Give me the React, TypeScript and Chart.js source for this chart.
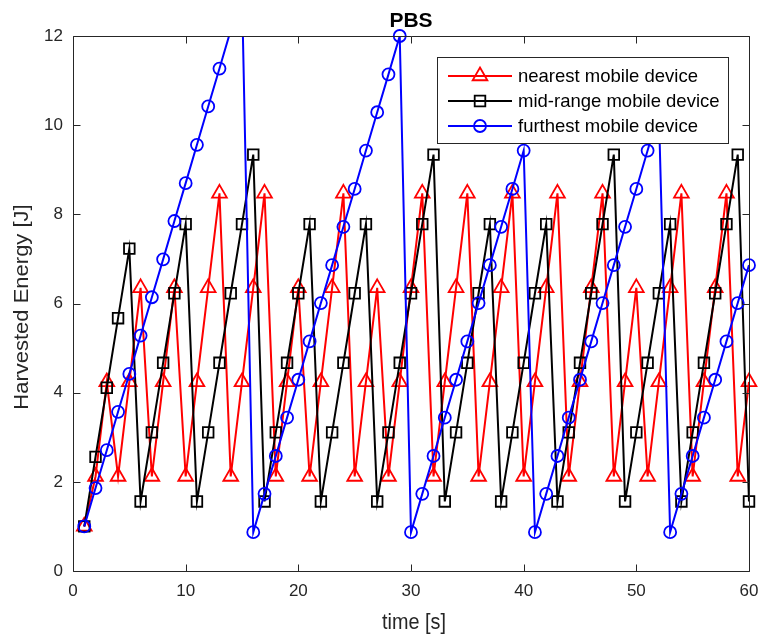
import React, { useEffect, useRef } from "react";
import { Chart, registerables } from "chart.js";

Chart.register(...registerables);

// ---------- data ----------
const timeS = [
  1, 2, 3, 4, 5, 6, 7, 8, 9, 10, 11, 12, 13, 14, 15, 16, 17, 18, 19, 20,
  21, 22, 23, 24, 25, 26, 27, 28, 29, 30, 31, 32, 33, 34, 35, 36, 37, 38, 39, 40,
  41, 42, 43, 44, 45, 46, 47, 48, 49, 50, 51, 52, 53, 54, 55, 56, 57, 58, 59, 60,
];

const nearestJ = [
  1.0, 2.12, 4.24, 2.12, 4.24, 6.35, 2.12, 4.24, 6.35, 2.12,
  4.24, 6.35, 8.47, 2.12, 4.24, 6.35, 8.47, 2.12, 4.24, 6.35,
  2.12, 4.24, 6.35, 8.47, 2.12, 4.24, 6.35, 2.12, 4.24, 6.35,
  8.47, 2.12, 4.24, 6.35, 8.47, 2.12, 4.24, 6.35, 8.47, 2.12,
  4.24, 6.35, 8.47, 2.12, 4.24, 6.35, 8.47, 2.12, 4.24, 6.35,
  2.12, 4.24, 6.35, 8.47, 2.12, 4.24, 6.35, 8.47, 2.12, 4.24,
];

const midRangeJ = [
  1.0, 2.56, 4.11, 5.67, 7.23, 1.56, 3.11, 4.67, 6.23, 7.78,
  1.56, 3.11, 4.67, 6.23, 7.78, 9.34, 1.56, 3.11, 4.67, 6.23,
  7.78, 1.56, 3.11, 4.67, 6.23, 7.78, 1.56, 3.11, 4.67, 6.23,
  7.78, 9.34, 1.56, 3.11, 4.67, 6.23, 7.78, 1.56, 3.11, 4.67,
  6.23, 7.78, 1.56, 3.11, 4.67, 6.23, 7.78, 9.34, 1.56, 3.11,
  4.67, 6.23, 7.78, 1.56, 3.11, 4.67, 6.23, 7.78, 9.34, 1.56,
];

const furthestJ = [
  1.0, 1.86, 2.71, 3.57, 4.42, 5.28, 6.14, 6.99, 7.85, 8.7,
  9.56, 10.42, 11.27, 12.13, 12.98, 0.87, 1.73, 2.58, 3.44, 4.29,
  5.15, 6.01, 6.86, 7.72, 8.57, 9.43, 10.29, 11.14, 12.0, 0.87,
  1.73, 2.58, 3.44, 4.29, 5.15, 6.01, 6.86, 7.72, 8.57, 9.43,
  0.87, 1.73, 2.58, 3.44, 4.29, 5.15, 6.01, 6.86, 7.72, 8.57,
  9.43, 10.29, 0.87, 1.73, 2.58, 3.44, 4.29, 5.15, 6.01, 6.86,
];

const xTicks = [0, 10, 20, 30, 40, 50, 60];
const yTicks = [0, 2, 4, 6, 8, 10, 12];
const seriesNames = ["nearest mobile device", "mid-range mobile device", "furthest mobile device"];
const seriesColors = ["#ff0000", "#000000", "#0000ff"];
const seriesMarkers = ["triangle", "rect", "circle"];
const titleText = "PBS";
const xLabel = "time [s]";
const yLabel = "Harvested Energy [J]";

// ---------- styling ----------
const FONT = "'Liberation Sans', Arial, Helvetica, sans-serif";
const AXIS = "#262626";
const MARKER_R: Record<string, number> = { triangle: 8.5, rect: 7.5, circle: 6 };

function drawMarker(ctx: CanvasRenderingContext2D, style: string, x: number, y: number, r: number) {
  ctx.beginPath();
  if (style === "triangle") {
    for (let k = 0; k < 3; k++) {
      const a = (k * 2 * Math.PI) / 3;
      const px = x + Math.sin(a) * r;
      const py = y - Math.cos(a) * r;
      if (k === 0) ctx.moveTo(px, py);
      else ctx.lineTo(px, py);
    }
    ctx.closePath();
  } else if (style === "rect") {
    const s = Math.SQRT1_2 * r;
    ctx.rect(x - s, y - s, 2 * s, 2 * s);
  } else {
    ctx.arc(x, y, r, 0, Math.PI * 2);
  }
  ctx.stroke();
}

const framePlugin = {
  id: "matlabFrame",
  afterDraw(chart: any) {
    const { ctx, chartArea: a, scales } = chart;
    const xs = scales.x;
    const ys = scales.y;
    ctx.save();

    // box
    ctx.strokeStyle = AXIS;
    ctx.lineWidth = 1;
    const L = Math.round(a.left) + 0.5;
    const R = Math.round(a.right) + 0.5;
    const T = Math.round(a.top) + 0.5;
    const B = Math.round(a.bottom) + 0.5;
    ctx.beginPath();
    ctx.rect(L, T, R - L, B - T);
    ctx.stroke();

    // inward ticks on all four sides
    const tl = 7;
    ctx.beginPath();
    for (const v of xTicks) {
      const px = Math.round(xs.getPixelForValue(v)) + 0.5;
      ctx.moveTo(px, B);
      ctx.lineTo(px, B - tl);
      ctx.moveTo(px, T);
      ctx.lineTo(px, T + tl);
    }
    for (const v of yTicks) {
      const py = Math.round(ys.getPixelForValue(v)) + 0.5;
      ctx.moveTo(L, py);
      ctx.lineTo(L + tl, py);
      ctx.moveTo(R, py);
      ctx.lineTo(R - tl, py);
    }
    ctx.stroke();

    // legend box
    const lx = 437, ly = 57, lw = 291, lh = 86;
    ctx.fillStyle = "#ffffff";
    ctx.fillRect(lx, ly, lw, lh);
    ctx.strokeStyle = AXIS;
    ctx.lineWidth = 1;
    ctx.strokeRect(lx + 0.5, ly + 0.5, lw, lh);
    ctx.font = `18.5px ${FONT}`;
    ctx.textAlign = "left";
    ctx.textBaseline = "middle";
    seriesNames.forEach((name, i) => {
      const ry = 76 + i * 25;
      ctx.strokeStyle = seriesColors[i];
      ctx.lineWidth = 2;
      ctx.beginPath();
      ctx.moveTo(448, ry);
      ctx.lineTo(512, ry);
      ctx.stroke();
      ctx.lineWidth = 1.8;
      drawMarker(ctx, seriesMarkers[i], 480, ry, MARKER_R[seriesMarkers[i]]);
      ctx.fillStyle = "#000000";
      ctx.fillText(name, 518, ry + 1);
    });

    // title
    const cx = (a.left + a.right) / 2;
    ctx.fillStyle = "#000000";
    ctx.font = `bold 21px ${FONT}`;
    ctx.textAlign = "center";
    ctx.textBaseline = "alphabetic";
    ctx.fillText(titleText, cx, 27);

    // axis titles (slightly condensed horizontally, like the reference)
    ctx.fillStyle = AXIS;
    ctx.font = `22px ${FONT}`;
    ctx.textBaseline = "middle";
    ctx.save();
    ctx.translate(cx + 3, 623);
    ctx.scale(0.9, 1);
    ctx.fillText(xLabel, 0, 0);
    ctx.restore();
    ctx.save();
    ctx.translate(23, 307);
    ctx.rotate(-Math.PI / 2);
    ctx.scale(1, 0.9);
    ctx.fillText(yLabel, 0, 0);
    ctx.restore();

    ctx.restore();
  },
};

export default function App() {
  const canvasRef = useRef<HTMLCanvasElement | null>(null);

  useEffect(() => {
    const canvas = canvasRef.current;
    if (!canvas) return;
    const series = [nearestJ, midRangeJ, furthestJ];
    const datasets: any[] = [];
    series.forEach((vals, i) => {
      const pts = timeS.map((t, k) => ({ x: t, y: vals[k] }));
      const style = seriesMarkers[i];
      // line (clipped exactly to the axes)
      datasets.push({
        label: seriesNames[i],
        data: pts,
        borderColor: seriesColors[i],
        borderWidth: 2,
        pointRadius: 0,
        pointHoverRadius: 0,
        fill: false,
        tension: 0,
        clip: 0,
        order: 10 - i * 3,
      });
      // markers
      datasets.push({
        label: seriesNames[i] + " markers",
        data: pts,
        showLine: false,
        borderColor: seriesColors[i],
        backgroundColor: "rgba(0,0,0,0)",
        pointStyle: style,
        pointBorderWidth: 1.8,
        pointRadius: (c: any) => (c.raw && c.raw.y > 12 ? 0 : MARKER_R[style]),
        pointHoverRadius: 0,
        clip: 10,
        order: 9 - i * 3,
      });
    });

    const chart = new Chart(canvas, {
      type: "line",
      data: { datasets },
      options: {
        animation: false,
        responsive: false,
        maintainAspectRatio: false,
        devicePixelRatio: 1,
        events: [],
        layout: { padding: { left: 0, top: 36, right: 12, bottom: 0 } },
        plugins: {
          legend: { display: false },
          title: { display: false },
          tooltip: { enabled: false },
        },
        scales: {
          x: {
            type: "linear",
            min: 0,
            max: 60,
            grid: { display: false, drawTicks: false },
            border: { display: false },
            ticks: {
              stepSize: 10,
              padding: 10,
              maxRotation: 0,
              color: AXIS,
              font: { family: FONT, size: 17 },
            },
            afterFit: (s: any) => {
              s.height = 70;
              s.paddingLeft = 0;
              s.paddingRight = 0;
            },
          },
          y: {
            type: "linear",
            min: 0,
            max: 12,
            grid: { display: false, drawTicks: false },
            border: { display: false },
            ticks: {
              stepSize: 2,
              padding: 10,
              color: AXIS,
              font: { family: FONT, size: 17 },
            },
            afterFit: (s: any) => {
              s.width = 73;
              s.paddingTop = 0;
              s.paddingBottom = 0;
            },
          },
        },
      },
      plugins: [framePlugin],
    } as any);

    return () => chart.destroy();
  }, []);

  return (
    <div style={{ position: "fixed", left: 0, top: 0, width: 761, height: 641, background: "#ffffff" }}>
      <canvas ref={canvasRef} width={761} height={641} style={{ width: 761, height: 641, display: "block" }} />
    </div>
  );
}
